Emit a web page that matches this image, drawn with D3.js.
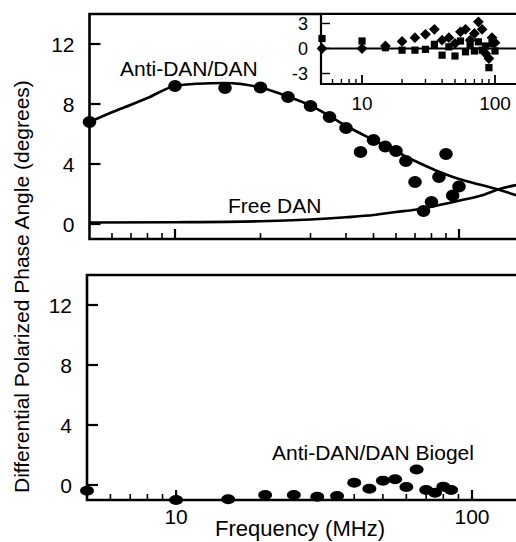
<!DOCTYPE html>
<html>
<head>
<meta charset="utf-8">
<script src="https://cdn.jsdelivr.net/npm/d3@7"></script>
<style>
  body { margin: 0; background: #fff; }
  svg { display: block; }
  text { font-family: 'Liberation Sans', Arial, Helvetica, sans-serif; fill: #000; }
</style>
</head>
<body>
<div id="chart"></div>
<script>
// measured points, top panel (Anti-DAN/DAN)
var freqTop = [5, 10, 15, 20, 25, 30, 35, 40, 45, 50, 55, 60, 65, 70, 75, 80, 85, 90, 95, 100];
var antiDan = [6.8, 9.2, 9.07, 9.1, 8.47, 7.87, 7.13, 6.4, 4.8, 5.6, 5.17, 4.87, 4.2, 2.8, 0.87, 1.47, 3.13, 4.67, 1.9, 2.5];

// fitted curves, top panel
var fitFreq = [5, 6, 7, 8, 10, 12, 15, 20, 25, 30, 35, 40, 50, 60, 70, 80, 90, 100, 120, 140, 160];
var fitAntiDan = [6.8, 7.45, 7.95, 8.4, 9.2, 9.35, 9.4, 9.1, 8.5, 7.9, 7.2, 6.55, 5.6, 4.85, 4.2, 3.7, 3.3, 3.0, 2.6, 2.25, 1.9];
var freeFreq = [5, 10, 20, 30, 40, 50, 60, 70, 80, 100, 120, 140, 160];
var fitFreeDan = [0.1, 0.12, 0.18, 0.3, 0.45, 0.6, 0.8, 0.95, 1.15, 1.55, 1.9, 2.35, 2.6];

// inset residuals
var insetFreq = [5, 10, 15, 20, 25, 30, 35, 40, 45, 50, 55, 60, 65, 70, 75, 80, 85, 90, 95, 100];
var insetDiamond = [0, 0, 0.3, 0.85, 1.3, 1.7, 2.3, 1.0, 1.3, 0.6, 2.0, 2.3, 1.0, 1.8, 3.2, 2.3, -0.6, -1.2, 1.3, 0.7];
var insetSquare = [1.2, 0.9, 0.1, -0.2, -0.2, -0.1, 0.5, -0.8, 0.2, -0.9, 0.9, -0.4, 0.5, -0.3, 0.8, -0.2, 0.3, -2.3, 0.6, -0.3];

// bottom panel (Biogel)
var freqBio = [5, 10, 15, 20, 25, 30, 35, 40, 45, 50, 55, 60, 65, 70, 75, 80, 85];
var biogel = [-0.38, -1.0, -0.95, -0.67, -0.67, -0.78, -0.73, 0.15, -0.25, 0.29, 0.38, -0.13, 1.03, -0.33, -0.51, -0.11, -0.33];

var yTicks = [0, 4, 8, 12];
var insetYTicks = [-3, 0, 3];
var xMajor = [10, 100];
var xMinor = [6, 7, 8, 9, 20, 30, 40, 50, 60, 70, 80, 90];

var width = 516;
var height = 542;
var right = 516;

var svg = d3.select('#chart')
    .append('svg')
    .attr('width', width)
    .attr('height', height);

// scales (the two panels were scanned at slightly different widths)
var xTop = d3.scaleLog().domain([5, 100]).range([89.5, 459]);
var yTop = d3.scaleLinear().domain([-1, 14]).range([239, 14]);
var xBot = d3.scaleLog().domain([5, 100]).range([87, 472]);
var yBot = d3.scaleLinear().domain([-1, 14]).range([500, 275]);
var xIn = d3.scaleLog().domain([5, 100]).range([322, 495]);
var yIn = d3.scaleLinear().domain([-3, 3]).range([73.5, 23.5]);

function frame(x, y) {
    var x0 = x.range()[0], y0 = y.range()[0], y1 = y.range()[1];
    var g = svg.append('g');
    g.append('path')
        .attr('d', 'M' + right + ',' + y1 + 'H' + x0 + 'V' + y0 + 'H' + right)
        .attr('fill', 'none')
        .attr('stroke', '#000')
        .attr('stroke-width', 2.6);

    // y ticks pointing inward
    g.selectAll('.ytick')
        .data(yTicks)
        .enter()
        .append('line')
        .attr('x1', x0).attr('x2', x0 + 11)
        .attr('y1', function(d) { return y(d); })
        .attr('y2', function(d) { return y(d); })
        .attr('stroke', '#000').attr('stroke-width', 2.2);

    g.selectAll('.ylab')
        .data(yTicks)
        .enter()
        .append('text')
        .attr('x', x0 - 15)
        .attr('y', function(d) { return y(d); })
        .attr('dy', '0.36em')
        .attr('text-anchor', 'end')
        .style('font-size', '21px')
        .text(function(d) { return d; });

    // x ticks pointing up
    g.selectAll('.xmin')
        .data(xMinor)
        .enter()
        .append('line')
        .attr('x1', function(d) { return x(d); })
        .attr('x2', function(d) { return x(d); })
        .attr('y1', y0).attr('y2', y0 - 6)
        .attr('stroke', '#000').attr('stroke-width', 1.6);

    g.selectAll('.xmaj')
        .data(xMajor)
        .enter()
        .append('line')
        .attr('x1', function(d) { return x(d); })
        .attr('x2', function(d) { return x(d); })
        .attr('y1', y0).attr('y2', y0 - 10)
        .attr('stroke', '#000').attr('stroke-width', 2.2);
    return g;
}

function label(x, y, txt, size) {
    svg.append('text')
        .attr('x', x).attr('y', y)
        .style('font-size', size + 'px')
        .text(txt);
}

// ---- top panel ----
frame(xTop, yTop);

var lineTop = d3.line()
    .x(function(d) { return xTop(d[0]); })
    .y(function(d) { return yTop(d[1]); })
    .curve(d3.curveMonotoneX);

svg.append('path')
    .datum(d3.zip(fitFreq, fitAntiDan))
    .attr('d', lineTop)
    .attr('fill', 'none').attr('stroke', '#000').attr('stroke-width', 2.6);

svg.append('path')
    .datum(d3.zip(freeFreq, fitFreeDan))
    .attr('d', lineTop)
    .attr('fill', 'none').attr('stroke', '#000').attr('stroke-width', 2.6);

svg.selectAll('.dotTop')
    .data(d3.zip(freqTop, antiDan))
    .enter()
    .append('ellipse')
    .attr('cx', function(d) { return xTop(d[0]); })
    .attr('cy', function(d) { return yTop(d[1]); })
    .attr('rx', 6.8).attr('ry', 6)
    .attr('fill', '#000');

label(120, 76, 'Anti-DAN/DAN', 21);
label(228, 213, 'Free DAN', 21);

// ---- inset ----
var inset = svg.append('g');
inset.append('rect')
    .attr('x', 321).attr('y', 15)
    .attr('width', right - 321).attr('height', 69)
    .attr('fill', '#fff');
inset.append('path')
    .attr('d', 'M321,14V84H' + right)
    .attr('fill', 'none').attr('stroke', '#000').attr('stroke-width', 2.2);
inset.append('line')
    .attr('x1', 321).attr('x2', right)
    .attr('y1', yIn(0)).attr('y2', yIn(0))
    .attr('stroke', '#000').attr('stroke-width', 2.2);

inset.selectAll('.iyt')
    .data(insetYTicks)
    .enter()
    .append('line')
    .attr('x1', 321).attr('x2', 330)
    .attr('y1', function(d) { return yIn(d); })
    .attr('y2', function(d) { return yIn(d); })
    .attr('stroke', '#000').attr('stroke-width', 1.4);

inset.selectAll('.iyl')
    .data(insetYTicks)
    .enter()
    .append('text')
    .attr('x', 308)
    .attr('y', function(d) { return yIn(d); })
    .attr('dy', '0.36em')
    .attr('text-anchor', 'end')
    .style('font-size', '18px')
    .text(function(d) { return d; });

inset.selectAll('.ixmin')
    .data(xMinor)
    .enter()
    .append('line')
    .attr('x1', function(d) { return xIn(d); })
    .attr('x2', function(d) { return xIn(d); })
    .attr('y1', 84).attr('y2', 79)
    .attr('stroke', '#000').attr('stroke-width', 1.4);

inset.selectAll('.ixmaj')
    .data(xMajor)
    .enter()
    .append('line')
    .attr('x1', function(d) { return xIn(d); })
    .attr('x2', function(d) { return xIn(d); })
    .attr('y1', 84).attr('y2', 75)
    .attr('stroke', '#000').attr('stroke-width', 1.8);

inset.selectAll('.ixl')
    .data(xMajor)
    .enter()
    .append('text')
    .attr('x', function(d) { return xIn(d); })
    .attr('y', 110)
    .attr('text-anchor', 'middle')
    .style('font-size', '19px')
    .text(function(d) { return d; });

var square = d3.symbol(d3.symbolSquare, 52);
var diamond = d3.symbol(d3.symbolSquare, 58);

inset.selectAll('.sq')
    .data(d3.zip(insetFreq, insetSquare))
    .enter()
    .append('path')
    .attr('d', square)
    .attr('transform', function(d) { return 'translate(' + xIn(d[0]) + ',' + yIn(d[1]) + ')'; })
    .attr('fill', '#000');

inset.selectAll('.dm')
    .data(d3.zip(insetFreq, insetDiamond))
    .enter()
    .append('path')
    .attr('d', diamond)
    .attr('transform', function(d) { return 'translate(' + xIn(d[0]) + ',' + yIn(d[1]) + ') rotate(45)'; })
    .attr('fill', '#000');

// ---- bottom panel ----
frame(xBot, yBot);

svg.selectAll('.xlab')
    .data(xMajor)
    .enter()
    .append('text')
    .attr('x', function(d) { return xBot(d); })
    .attr('y', 524)
    .attr('text-anchor', 'middle')
    .style('font-size', '21px')
    .text(function(d) { return d; });

svg.selectAll('.dotBot')
    .data(d3.zip(freqBio, biogel))
    .enter()
    .append('ellipse')
    .attr('cx', function(d) { return xBot(d[0]); })
    .attr('cy', function(d) { return yBot(d[1]); })
    .attr('rx', 7).attr('ry', 5)
    .attr('fill', '#000');

label(272, 460, 'Anti-DAN/DAN Biogel', 21);

// axis titles
svg.append('text')
    .attr('x', 300).attr('y', 536)
    .attr('text-anchor', 'middle')
    .style('font-size', '22px')
    .text('Frequency (MHz)');

svg.append('text')
    .attr('transform', 'translate(29,493) rotate(-90)')
    .style('font-size', '21px')
    .text('Differential Polarized Phase Angle (degrees)');
</script>
</body>
</html>
